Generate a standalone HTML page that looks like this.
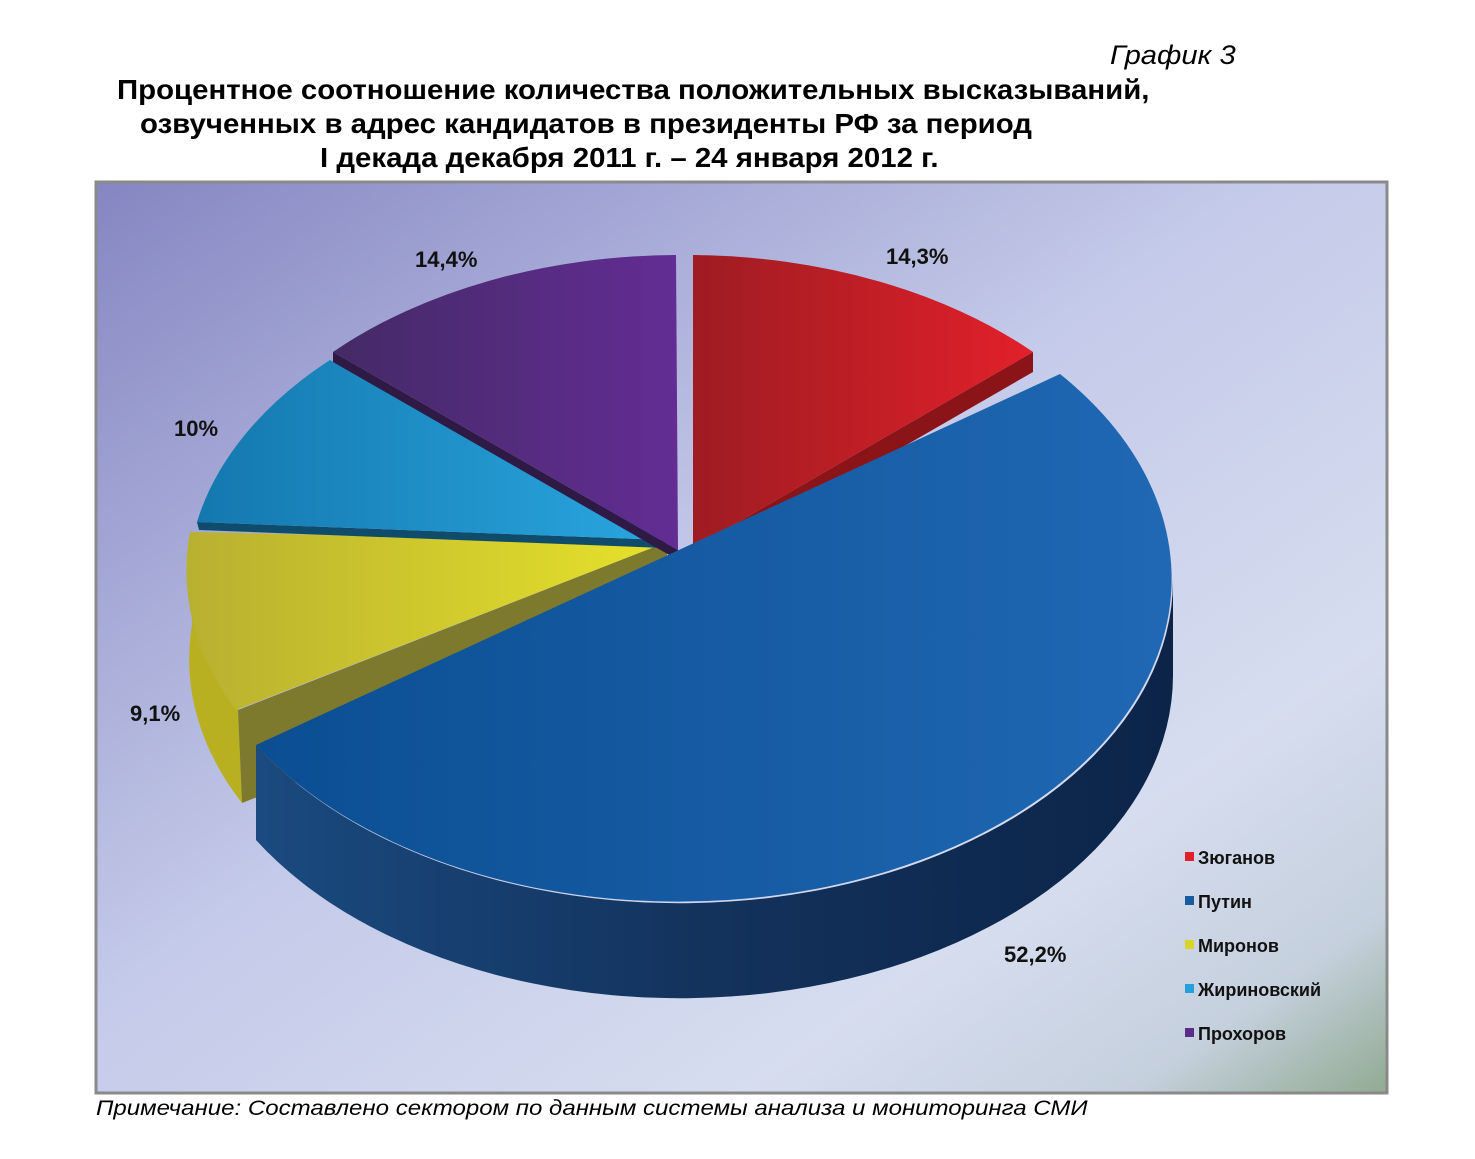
<!DOCTYPE html>
<html><head><meta charset="utf-8"><style>
body{margin:0;width:1475px;height:1159px;background:#fff;position:relative;overflow:hidden;font-family:"Liberation Sans",Arial,sans-serif;}
.t{position:absolute;white-space:nowrap;transform-origin:0 0;}
</style></head><body>
<div class="t" style="left:1110px;top:40px;font-size:27px;font-style:italic;transform:scaleX(1.08);">График 3</div>
<div class="t" style="left:117px;top:74px;font-size:28px;font-weight:bold;transform:scaleX(1.05);">Процентное соотношение количества положительных высказываний,</div>
<div class="t" style="left:140px;top:108px;font-size:28px;font-weight:bold;transform:scaleX(1.05);">озвученных в адрес кандидатов в президенты РФ за период</div>
<div class="t" style="left:320px;top:142px;font-size:28px;font-weight:bold;transform:scaleX(1.05);">I декада декабря 2011 г. – 24 января 2012 г.</div>
<div class="t" style="left:96px;top:1097px;font-size:21px;font-style:italic;transform:scaleX(1.145);">Примечание: Составлено сектором по данным системы анализа и мониторинга СМИ</div>
<svg width="1475" height="1159" style="position:absolute;left:0;top:0">
<defs>
<linearGradient id="bg" x1="0" y1="0" x2="1" y2="1">
<stop offset="0" stop-color="#8586c2"/><stop offset="0.45" stop-color="#c4cae9"/><stop offset="0.75" stop-color="#d6ddef"/><stop offset="0.9" stop-color="#c5d0dd"/><stop offset="1" stop-color="#92aa92"/></linearGradient>
<linearGradient id="pt" x1="0" y1="0" x2="1" y2="0"><stop offset="0" stop-color="#0b4e92"/><stop offset="1" stop-color="#2068b4"/></linearGradient>
<linearGradient id="ps" x1="0" y1="0" x2="1" y2="0"><stop offset="0" stop-color="#1a4a80"/><stop offset="0.5" stop-color="#13325c"/><stop offset="1" stop-color="#0c2448"/></linearGradient>
<linearGradient id="zt" x1="0" y1="0" x2="1" y2="0"><stop offset="0" stop-color="#9e1c22"/><stop offset="1" stop-color="#e2202a"/></linearGradient>
<linearGradient id="mt" x1="0" y1="0" x2="1" y2="0"><stop offset="0" stop-color="#b8b030"/><stop offset="1" stop-color="#e6e22a"/></linearGradient>
<linearGradient id="jt" x1="0" y1="0" x2="1" y2="0"><stop offset="0" stop-color="#1478ae"/><stop offset="1" stop-color="#2aa6e0"/></linearGradient>
<linearGradient id="vt" x1="0" y1="0" x2="1" y2="0"><stop offset="0" stop-color="#442a66"/><stop offset="1" stop-color="#632d94"/></linearGradient>
</defs>
<rect x="96" y="182" width="1291" height="911" fill="url(#bg)" stroke="#8a8a8a" stroke-width="3"/>
<!-- Mironov -->
<path d="M190,532 A480,315 0 0,0 238,710 L242,803 A480,315 0 0,1 192,625 Z" fill="#b8b020"/>
<path d="M667,542 L238,710 L242,803 L667,637 Z" fill="#7d7a2e"/>
<path d="M667,542 L190,532 A480,315 0 0,0 236,710 Z" fill="url(#mt)"/>
<!-- Zhirinovsky -->
<path d="M665,540 L197,522 L199,530 L665,548 Z" fill="#0f4c6c"/>
<path d="M665,540 L330,360 A480,315 0 0,0 197,522 Z" fill="url(#jt)"/>
<!-- Prokhorov -->
<path d="M678,550 L333,352 L333,362 L678,560 Z" fill="#2e1a45"/>
<path d="M678,550 L676,255 A480,315 0 0,0 333,352 Z" fill="url(#vt)"/>
<!-- Zyuganov -->
<path d="M693,548 L1033,352 L1033,372 L693,568 Z" fill="#8a1418"/>
<path d="M693,548 L693,255 A480,315 0 0,1 1033,352 Z" fill="url(#zt)"/>
<!-- Putin -->
<path d="M1173,580 A493,323 0 0,1 256,745 L256,840 A493,323 0 0,0 1173,675 Z" fill="url(#ps)"/>
<path d="M668,555 L1060,374 A493,323 0 1,1 256,745 Z" fill="url(#pt)"/>
<g font-family="Liberation Sans,Arial,sans-serif" font-weight="bold" font-size="22" fill="#111">
<text x="415" y="267">14,4%</text>
<text x="886" y="264">14,3%</text>
<text x="174" y="436">10%</text>
<text x="130" y="721">9,1%</text>
<text x="1004" y="962">52,2%</text>
</g>
<g font-family="Liberation Sans,Arial,sans-serif" font-weight="bold" font-size="18" fill="#111">
<rect x="1185" y="852" width="9" height="9" fill="#e0202a"/><text x="1198" y="864">Зюганов</text>
<rect x="1185" y="896" width="9" height="9" fill="#1a5aa0"/><text x="1198" y="908">Путин</text>
<rect x="1185" y="940" width="9" height="9" fill="#d8d42a"/><text x="1198" y="952">Миронов</text>
<rect x="1185" y="984" width="9" height="9" fill="#26a0dc"/><text x="1198" y="996">Жириновский</text>
<rect x="1185" y="1028" width="9" height="9" fill="#5a2d8c"/><text x="1198" y="1040">Прохоров</text>
</g>
</svg>
</body></html>
